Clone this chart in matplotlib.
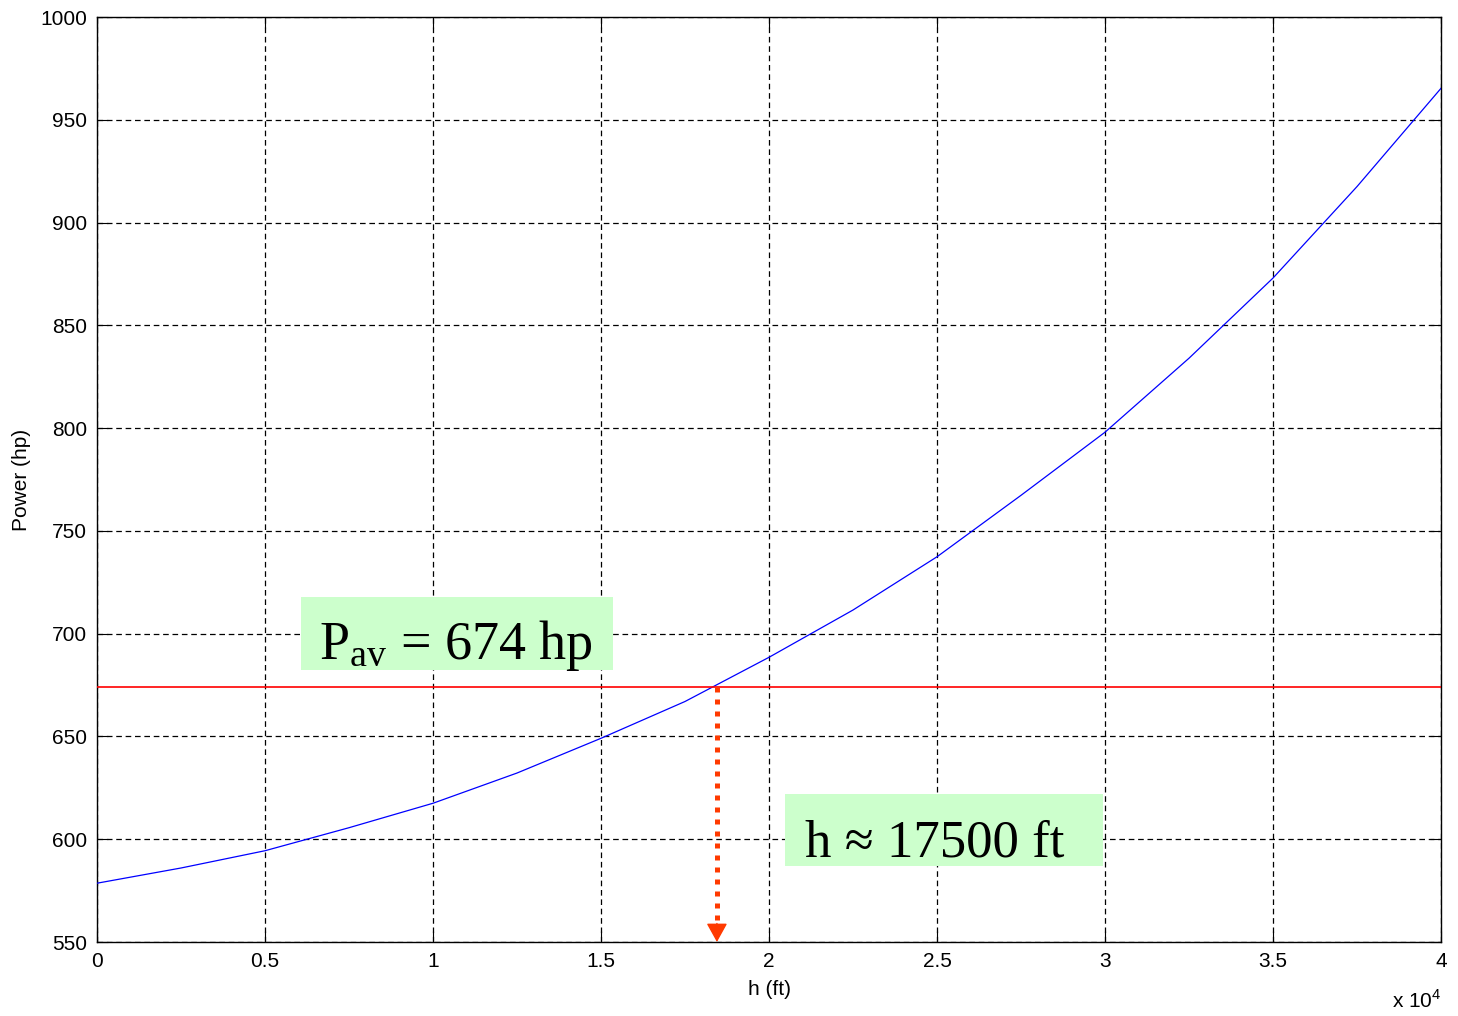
import matplotlib
matplotlib.use('Agg')
import matplotlib.pyplot as plt
from matplotlib.patches import Rectangle

# altitude (ft) and power (hp)
altitude = [0, 2500, 5000, 7500, 10000, 12500, 15000, 17500, 20000,
            22500, 25000, 27500, 30000, 32500, 35000, 37500, 40000]
power = [578.6, 586.0, 594.4, 605.6, 617.5, 632.2, 649.1, 667.0, 688.5,
         711.5, 737.4, 767.3, 798.0, 834.0, 873.0, 917.5, 965.3]

P_av = 674
h_cross = 18450

x_ticks = [0, 5000, 10000, 15000, 20000, 25000, 30000, 35000, 40000]
x_ticklabels = ['0', '0.5', '1', '1.5', '2', '2.5', '3', '3.5', '4']
y_ticks = [550, 600, 650, 700, 750, 800, 850, 900, 950, 1000]

plt.rcParams['font.family'] = ['Liberation Sans', 'DejaVu Sans']
plt.rcParams['mathtext.fontset'] = 'custom'
plt.rcParams['mathtext.rm'] = 'Liberation Serif'
plt.rcParams['mathtext.sf'] = 'Liberation Sans'

fig = plt.figure(figsize=(14.58, 10.16), dpi=100)
ax = fig.add_axes([97/1458, 1 - 942/1016, (1441 - 97)/1458, (942 - 17)/1016])

ax.plot(altitude, power, color='#0000FF', lw=0.9, zorder=3)
ax.axhline(P_av, color='#FF0000', lw=1.2, zorder=3)

# dotted drop line with head
ax.plot([h_cross, h_cross], [P_av, 559], color='#FF3A00', lw=3.6,
        linestyle=(0, (1, 1.4)), dash_capstyle='butt', zorder=4)
ax.annotate('', xy=(h_cross, 550), xytext=(h_cross, 559),
            arrowprops=dict(arrowstyle='-|>,head_length=0.9,head_width=0.5',
                            color='#FF3A00', lw=1, shrinkA=0, shrinkB=0,
                            mutation_scale=13),
            annotation_clip=False, zorder=5)

ax.set_xlim(0, 40000)
ax.set_ylim(550, 1000)
ax.set_xticks(x_ticks)
ax.set_xticklabels(x_ticklabels)
ax.set_yticks(y_ticks)
ax.tick_params(direction='in', length=8, width=0.8, top=True, right=True,
               labelsize=15, pad=7)
for s in ax.spines.values():
    s.set_linewidth(1.0)

ax.grid(True, color='k', linestyle=(0, (4.5, 3)), linewidth=0.9)
ax.set_axisbelow(True)

ax.set_xlabel('h (ft)', fontsize=15)
ax.xaxis.set_label_coords(0.5, (942 - 980) / 925)
ax.set_ylabel('Power (hp)', fontsize=15)
ax.yaxis.set_label_coords((31 - 97) / 1344, 0.5)

ax.text(1.0, (942 - 1008) / 925, r'x 10$^{\mathsf{4}}$', transform=ax.transAxes,
        ha='right', va='baseline', fontsize=15)

# annotation boxes
ax.add_patch(Rectangle((6071, 682.3), 15357 - 6071, 717.8 - 682.3,
                       facecolor='#CCFFCC', edgecolor='none', zorder=2.5))
ax.text(6600, 687.7, r'$\mathrm{P_{av}}$ = 674 hp', fontsize=39,
        family='Liberation Serif', va='baseline', zorder=6)

ax.add_patch(Rectangle((20476, 587.0), 29940 - 20476, 622.0 - 587.0,
                       facecolor='#CCFFCC', edgecolor='none', zorder=2.5))
ax.text(21071, 591.8, 'h \u2248 17500 ft', fontsize=38,
        family='Liberation Serif', va='baseline', zorder=6)

fig.savefig('out.png', dpi=100)
